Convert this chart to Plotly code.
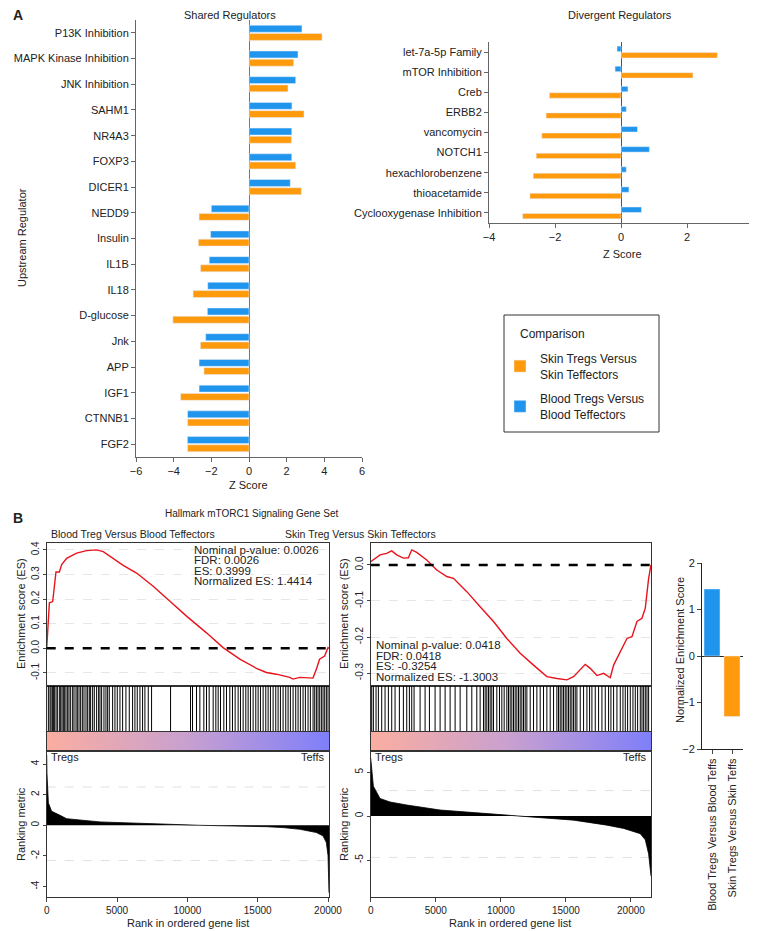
import plotly.graph_objects as go

W, H = 757, 931
OFF = 8  # the page body adds an 8px margin around the plot

# ---- panel A data ----
shared_regulators = ["P13K Inhibition", "MAPK Kinase Inhibition", "JNK Inhibition", "SAHM1", "NR4A3",
                     "FOXP3", "DICER1", "NEDD9", "Insulin", "IL1B", "IL18", "D-glucose", "Jnk", "APP",
                     "IGF1", "CTNNB1", "FGF2"]
shared_blood = [2.81, 2.60, 2.48, 2.28, 2.27, 2.27, 2.19, -2.00, -2.04, -2.11, -2.19, -2.21, -2.30,
                -2.65, -2.65, -3.26, -3.27]
shared_skin = [3.88, 2.37, 2.07, 2.92, 2.25, 2.48, 2.78, -2.65, -2.69, -2.57, -2.97, -4.04, -2.58,
               -2.39, -3.63, -3.26, -3.26]

divergent_regulators = ["let-7a-5p Family", "mTOR Inhibition", "Creb", "ERBB2", "vancomycin", "NOTCH1",
                        "hexachlorobenzene", "thioacetamide", "Cyclooxygenase Inhibition"]
divergent_blood = [-0.12, -0.18, 0.21, 0.16, 0.50, 0.86, 0.16, 0.24, 0.62]
divergent_skin = [2.92, 2.18, -2.17, -2.27, -2.40, -2.57, -2.66, -2.76, -2.98]

# ---- panel B data ----
blood_n_genes = 20070
blood_es_rank = [0, 70, 190, 426, 545, 660, 900, 1065, 1420, 2130, 2840, 3550, 4020, 4500, 5440, 6390,
                 7570, 8760, 9940, 11360, 12540, 13730, 14910, 15620, 16330, 17280, 17510, 17990, 18930,
                 19170, 19400, 19760, 20000, 20070]
blood_es = [0.0, 0.07, 0.185, 0.19, 0.245, 0.31, 0.31, 0.34, 0.366, 0.387, 0.397, 0.40, 0.393, 0.373,
            0.337, 0.306, 0.252, 0.191, 0.131, 0.063, 0.003, -0.044, -0.081, -0.098, -0.105, -0.118,
            -0.125, -0.118, -0.121, -0.085, -0.044, -0.031, 0.003, 0.0]
blood_hits = [118, 237, 308, 402, 473, 544, 663, 757, 899, 994, 1089, 1183, 1278, 1373, 1491, 1586, 1704,
              1846, 1941, 2083, 2178, 2296, 2414, 2533, 2651, 2793, 2911, 3030, 3124, 3266, 3385, 3550,
              3692, 3787, 3906, 4071, 4213, 4332, 4450, 4687, 4852, 5018, 5207, 5397, 5633, 5870, 6107,
              6273, 6438, 6628, 6817, 6983, 7220, 7456, 8805, 10225, 10367, 10652, 10888, 11172, 11362,
              11551, 11835, 12024, 12190, 12356, 12592, 12782, 13019, 13208, 13397, 13610, 13776, 13965,
              14155, 14321, 14486, 14675, 14865, 15030, 15196, 15386, 15575, 15741, 15906, 16096, 16285,
              16451, 16617, 16806, 16995, 17161, 17326, 17516, 17705, 17871, 18037, 18226, 18391, 18581,
              18747, 18936, 19054, 19173, 19291, 19409, 19528, 19646, 19764, 19882, 20001]
blood_metric_rank = [0, 20, 120, 350, 950, 1420, 3790, 7340, 10890, 15620, 16800, 18000, 19170, 19640,
                     19880, 20000, 20070]
blood_metric = [4.6, 3.4, 1.46, 0.92, 0.65, 0.43, 0.22, 0.09, 0.0, -0.09, -0.15, -0.26, -0.47, -0.69,
                -1.12, -1.98, -4.4]

skin_n_genes = 21540
skin_es_rank = [0, 205, 718, 1230, 1615, 2000, 2513, 2897, 3154, 3538, 4307, 5077, 5846, 6359, 7384, 8410,
                9436, 10461, 11487, 12512, 13538, 14307, 15076, 15589, 16102, 16487, 16871, 17384, 17897,
                18410, 18666, 19179, 19692, 20077, 20461, 20846, 21102, 21358, 21540]
skin_es = [0.009, 0.014, 0.028, 0.032, 0.039, 0.028, 0.019, 0.02, 0.042, 0.035, 0.014, -0.014, -0.032,
           -0.037, -0.074, -0.116, -0.157, -0.204, -0.245, -0.278, -0.31, -0.315, -0.319, -0.31, -0.292,
           -0.276, -0.287, -0.307, -0.301, -0.313, -0.278, -0.241, -0.204, -0.199, -0.157, -0.148, -0.12,
           -0.037, 0.0]
skin_hits = [77, 205, 410, 590, 846, 1103, 1359, 1615, 1872, 2205, 2513, 2769, 2974, 3154, 3333, 3795,
             4179, 4513, 4948, 5333, 5718, 6102, 6487, 6872, 7384, 7769, 8154, 8410, 8666, 8795, 8923,
             9051, 9179, 9307, 9436, 9692, 9897, 10077, 10256, 10461, 10589, 10717, 10846, 10974, 11102,
             11230, 11358, 11487, 11615, 11743, 11871, 12000, 12256, 12512, 12769, 13025, 13281, 13538,
             13794, 14051, 14307, 14435, 14563, 14692, 14820, 14948, 15076, 15205, 15333, 15461, 15589,
             15717, 15846, 16102, 16358, 16615, 16820, 17000, 17256, 17512, 17769, 18025, 18281, 18461,
             18666, 18922, 19179, 19384, 19563, 19743, 19948, 20153, 20333, 20512, 20717, 20846, 20974,
             21102, 21230, 21358]
skin_metric_rank = [0, 205, 718, 1487, 2769, 5333, 10461, 13025, 15589, 18153, 19435, 20717, 21102, 21358,
                    21540]
skin_metric = [6.6, 3.4, 2.0, 1.6, 1.26, 0.69, 0.11, -0.15, -0.46, -1.03, -1.4, -2.0, -2.7, -4.3, -6.8]

rank_ticks = [0, 5000, 10000, 15000, 20000]

nes_groups = ["Blood Tregs Versus Blood Teffs", "Skin Tregs Versus Skin Teffs"]
nes_values = [1.4414, -1.3003]

ORANGE = "#FF9A0D"
BLUE = "#1F95EE"
RED = "#E8141C"
FONT = "Liberation Sans, Arial, sans-serif"


def dx(a, b):
    return [(a - OFF) / W, (b - OFF) / W]


def dy(top, bottom):
    return [1 - (bottom - OFF) / H, 1 - (top - OFF) / H]


def ann(text, x, y, size=11, **kw):
    d = dict(text=text, x=(x - OFF) / W, y=1 - (y - OFF) / H, xref="paper", yref="paper", showarrow=False,
             xanchor="center", yanchor="middle", font=dict(size=size, color="#222", family=FONT))
    d.update(kw)
    return d


fig = go.Figure()

# shared regulators
fig.add_trace(go.Bar(y=shared_regulators, x=shared_blood, orientation="h", marker_color=BLUE,
                     name="Blood Tregs Versus<br>Blood Teffectors", legendrank=2, legendgroup="blood",
                     xaxis="x", yaxis="y"))
fig.add_trace(go.Bar(y=shared_regulators, x=shared_skin, orientation="h", marker_color=ORANGE,
                     name="Skin Tregs Versus<br>Skin Teffectors", legendrank=1, legendgroup="skin",
                     xaxis="x", yaxis="y"))
# divergent regulators
fig.add_trace(go.Bar(y=divergent_regulators, x=divergent_blood, orientation="h", marker_color=BLUE,
                     showlegend=False, xaxis="x2", yaxis="y2"))
fig.add_trace(go.Bar(y=divergent_regulators, x=divergent_skin, orientation="h", marker_color=ORANGE,
                     showlegend=False, xaxis="x2", yaxis="y2"))


def gsea(n, es_rank, es, hits, m_rank, metric, k):
    ax = [str(k + i) for i in range(4)]
    fig.add_trace(go.Scatter(x=es_rank, y=es, mode="lines", line=dict(color=RED, width=1.4),
                             showlegend=False, xaxis="x" + ax[0], yaxis="y" + ax[0]))
    hx, hy = [], []
    for h in hits:
        hx += [h, h, None]
        hy += [0, 1, None]
    fig.add_trace(go.Scatter(x=hx, y=hy, mode="lines", line=dict(color="black", width=1),
                             showlegend=False, xaxis="x" + ax[1], yaxis="y" + ax[1]))
    fig.add_trace(go.Scatter(x=[0, n, n, 0, 0], y=[0, 0, 1, 1, 0], mode="lines", fill="toself",
                             line=dict(width=0),
                             fillgradient=dict(type="horizontal",
                                               colorscale=[[0, "#FBAEA0"], [0.5, "#C8A0D0"], [1, "#7F7FFA"]]),
                             showlegend=False, xaxis="x" + ax[2], yaxis="y" + ax[2]))
    fig.add_trace(go.Scatter(x=m_rank, y=metric, mode="lines", fill="tozeroy", fillcolor="black",
                             line=dict(color="black", width=0.8),
                             showlegend=False, xaxis="x" + ax[3], yaxis="y" + ax[3]))


gsea(blood_n_genes, blood_es_rank, blood_es, blood_hits, blood_metric_rank, blood_metric, 3)
gsea(skin_n_genes, skin_es_rank, skin_es, skin_hits, skin_metric_rank, skin_metric, 7)

fig.add_trace(go.Bar(x=nes_groups, y=nes_values, marker_color=[BLUE, ORANGE], width=0.8,
                     showlegend=False, xaxis="x11", yaxis="y11"))

axis_font = dict(size=11, color="#222", family=FONT)
layout = dict(
    width=W, height=H, margin=dict(l=0, r=0, t=0, b=0, autoexpand=False),
    plot_bgcolor="white", paper_bgcolor="white",
    font=dict(family=FONT, size=11, color="#222"),
    barmode="group", bargap=0.36, bargroupgap=0.16,
    legend=dict(x=(500 - OFF) / W, y=1 - (344 - OFF) / H, xanchor="left", yanchor="top",
                traceorder="grouped", tracegroupgap=6, font=dict(size=12, color="#222"),
                bgcolor="rgba(0,0,0,0)", itemwidth=30),
)

# panel A axes
layout["xaxis"] = dict(domain=dx(136, 362), range=[-6, 6], dtick=2, anchor="y", showline=True,
                       linecolor="#666", ticks="outside", ticklen=4, tickcolor="#666", showgrid=False,
                       zeroline=True, zerolinecolor="#777", zerolinewidth=1, tickfont=axis_font,
                       automargin=False)
layout["yaxis"] = dict(domain=dy(20, 457), type="category", categoryarray=shared_regulators,
                       range=[16.5, -0.5], anchor="x", showline=True, linecolor="#666", ticks="outside",
                       ticklen=4, tickcolor="#666", showgrid=False, tickfont=axis_font, automargin=False)
layout["xaxis2"] = dict(domain=dx(489, 753), range=[-4, 4], dtick=2, anchor="y2", showline=True,
                        linecolor="#666", ticks="outside", ticklen=4, tickcolor="#666", showgrid=False,
                        zeroline=True, zerolinecolor="#555", zerolinewidth=1, tickfont=axis_font,
                        automargin=False)
layout["yaxis2"] = dict(domain=dy(42, 223), type="category", categoryarray=divergent_regulators,
                        range=[8.5, -0.5], anchor="x2", showline=True, linecolor="#666", ticks="outside",
                        ticklen=4, tickcolor="#666", showgrid=False, tickfont=axis_font, automargin=False)

small = dict(size=10, color="#222", family=FONT)


def gsea_axes(k, x0, x1, n, es_ticks, es_range, m_ticks, m_range):
    rows = [(543, 686), (686, 732), (732, 751), (751, 897)]
    for i, (t, b) in enumerate(rows):
        xa = dict(domain=dx(x0, x1), range=[0, n], anchor="y" + str(k + i), showline=True, mirror=True,
                  linecolor="#333", linewidth=1, showgrid=False, zeroline=False, showticklabels=False,
                  ticks="", automargin=False)
        ya = dict(domain=dy(t, b), anchor="x" + str(k + i), showline=True, mirror=True, linecolor="#333",
                  linewidth=1, zeroline=False, showgrid=False, showticklabels=False, ticks="",
                  range=[0, 1], automargin=False)
        if i == 0:
            ya.update(range=es_range, tickvals=es_ticks, ticktext=["%.1f" % v for v in es_ticks],
                      showticklabels=True, ticks="outside", ticklen=3, tickangle=-90, tickfont=small,
                      showgrid=True, gridcolor="#e6e6e6", griddash="dash")
        if i == 3:
            xa.update(showticklabels=True, ticks="outside", ticklen=4, tickvals=rank_ticks,
                      ticktext=[str(v) for v in rank_ticks], tickfont=small)
            ya.update(range=m_range, tickvals=m_ticks, ticktext=[str(v) for v in m_ticks],
                      showticklabels=True, ticks="outside", ticklen=3, tickangle=-90, tickfont=small)
        layout["xaxis" + str(k + i)] = xa
        layout["yaxis" + str(k + i)] = ya


gsea_axes(3, 46.7, 329, blood_n_genes, [0.4, 0.3, 0.2, 0.1, 0.0, -0.1], [-0.153, 0.428], [4, 2, 0, -2, -4],
          [-4.68, 4.85])
gsea_axes(7, 370.7, 651, skin_n_genes, [0.0, -0.1, -0.2, -0.3], [-0.336, 0.061], [5, 0, -5], [-9.2, 7.4])

layout["xaxis11"] = dict(domain=dx(702, 743), type="category", range=[-0.5, 1.55], anchor="y11",
                         showline=True, linecolor="#222", ticks="outside", ticklen=4, tickangle=-90,
                         tickfont=axis_font, showgrid=False, automargin=False)
layout["yaxis11"] = dict(domain=dy(563, 749), range=[-2, 2], dtick=1, anchor="x11", showline=True,
                         linecolor="#222", ticks="outside", ticklen=4, zeroline=True, zerolinecolor="#222",
                         zerolinewidth=1, showgrid=False, tickfont=axis_font, automargin=False)

fig.update_layout(**layout)


def hline(ax, yv, **line):
    return dict(type="line", xref="x%d domain" % ax, yref="y%d" % ax, x0=0, x1=1, y0=yv, y1=yv,
                line=line, layer="below" if line.get("color") != "black" else "above")


shapes = [
    dict(type="rect", xref="paper", yref="paper", x0=(504 - OFF) / W, x1=(659 - OFF) / W,
         y0=1 - (432 - OFF) / H, y1=1 - (315 - OFF) / H, line=dict(color="#333", width=1)),
    hline(3, 0, color="black", width=2.5, dash="dash"),
    hline(7, 0, color="black", width=2.5, dash="dash"),
    hline(6, 2.5, color="#e0e0e0", width=1, dash="dash"),
    hline(6, -2.3, color="#e0e0e0", width=1, dash="dash"),
    hline(10, 2.9, color="#e0e0e0", width=1, dash="dash"),
    hline(10, -4.7, color="#e0e0e0", width=1, dash="dash"),
]

annotations = [
    ann("<b>A</b>", 11, 15, size=14, xanchor="left"),
    ann("Shared Regulators", 230, 15),
    ann("Divergent Regulators", 620, 15),
    ann("Upstream Regulator", 22, 238, textangle=-90),
    ann("Z Score", 249, 485),
    ann("Z Score", 622, 254),
    ann("Comparison", 518, 334, size=12, xanchor="left"),
    ann("<b>B</b>", 11, 518, size=14, xanchor="left"),
    ann("Hallmark mTORC1 Signaling Gene Set", 251, 513, size=10),
    ann("Blood Treg Versus Blood Teffectors", 133, 534, size=10.5),
    ann("Skin Treg Versus Skin Teffectors", 360, 534, size=10.5),
    ann("Enrichment score (ES)", 21, 614, textangle=-90),
    ann("Ranking metric", 21, 824, textangle=-90),
    ann("Enrichment score (ES)", 344, 614, textangle=-90),
    ann("Ranking metric", 344, 824, textangle=-90),
    ann("Rank in ordered gene list", 188, 923),
    ann("Rank in ordered gene list", 510, 923),
    ann("Tregs", 49, 757, xanchor="left"),
    ann("Teffs", 327, 757, xanchor="right"),
    ann("Tregs", 373, 757, xanchor="left"),
    ann("Teffs", 649, 757, xanchor="right"),
    ann("Normalized Enrichment Score", 680, 650, textangle=-90),
]
for i, line in enumerate(["Nominal p-value: 0.0026", "FDR: 0.0026", "ES: 0.3999", "Normalized ES: 1.4414"]):
    annotations.append(ann(line, 192, 550 + i * 10.3, size=11.5, xanchor="left"))
for i, line in enumerate(["Nominal p-value: 0.0418", "FDR: 0.0418", "ES: -0.3254", "Normalized ES: -1.3003"]):
    annotations.append(ann(line, 374, 645 + i * 10.7, size=11.5, xanchor="left"))

fig.update_layout(shapes=shapes, annotations=annotations)
fig.write_html("out.html")
